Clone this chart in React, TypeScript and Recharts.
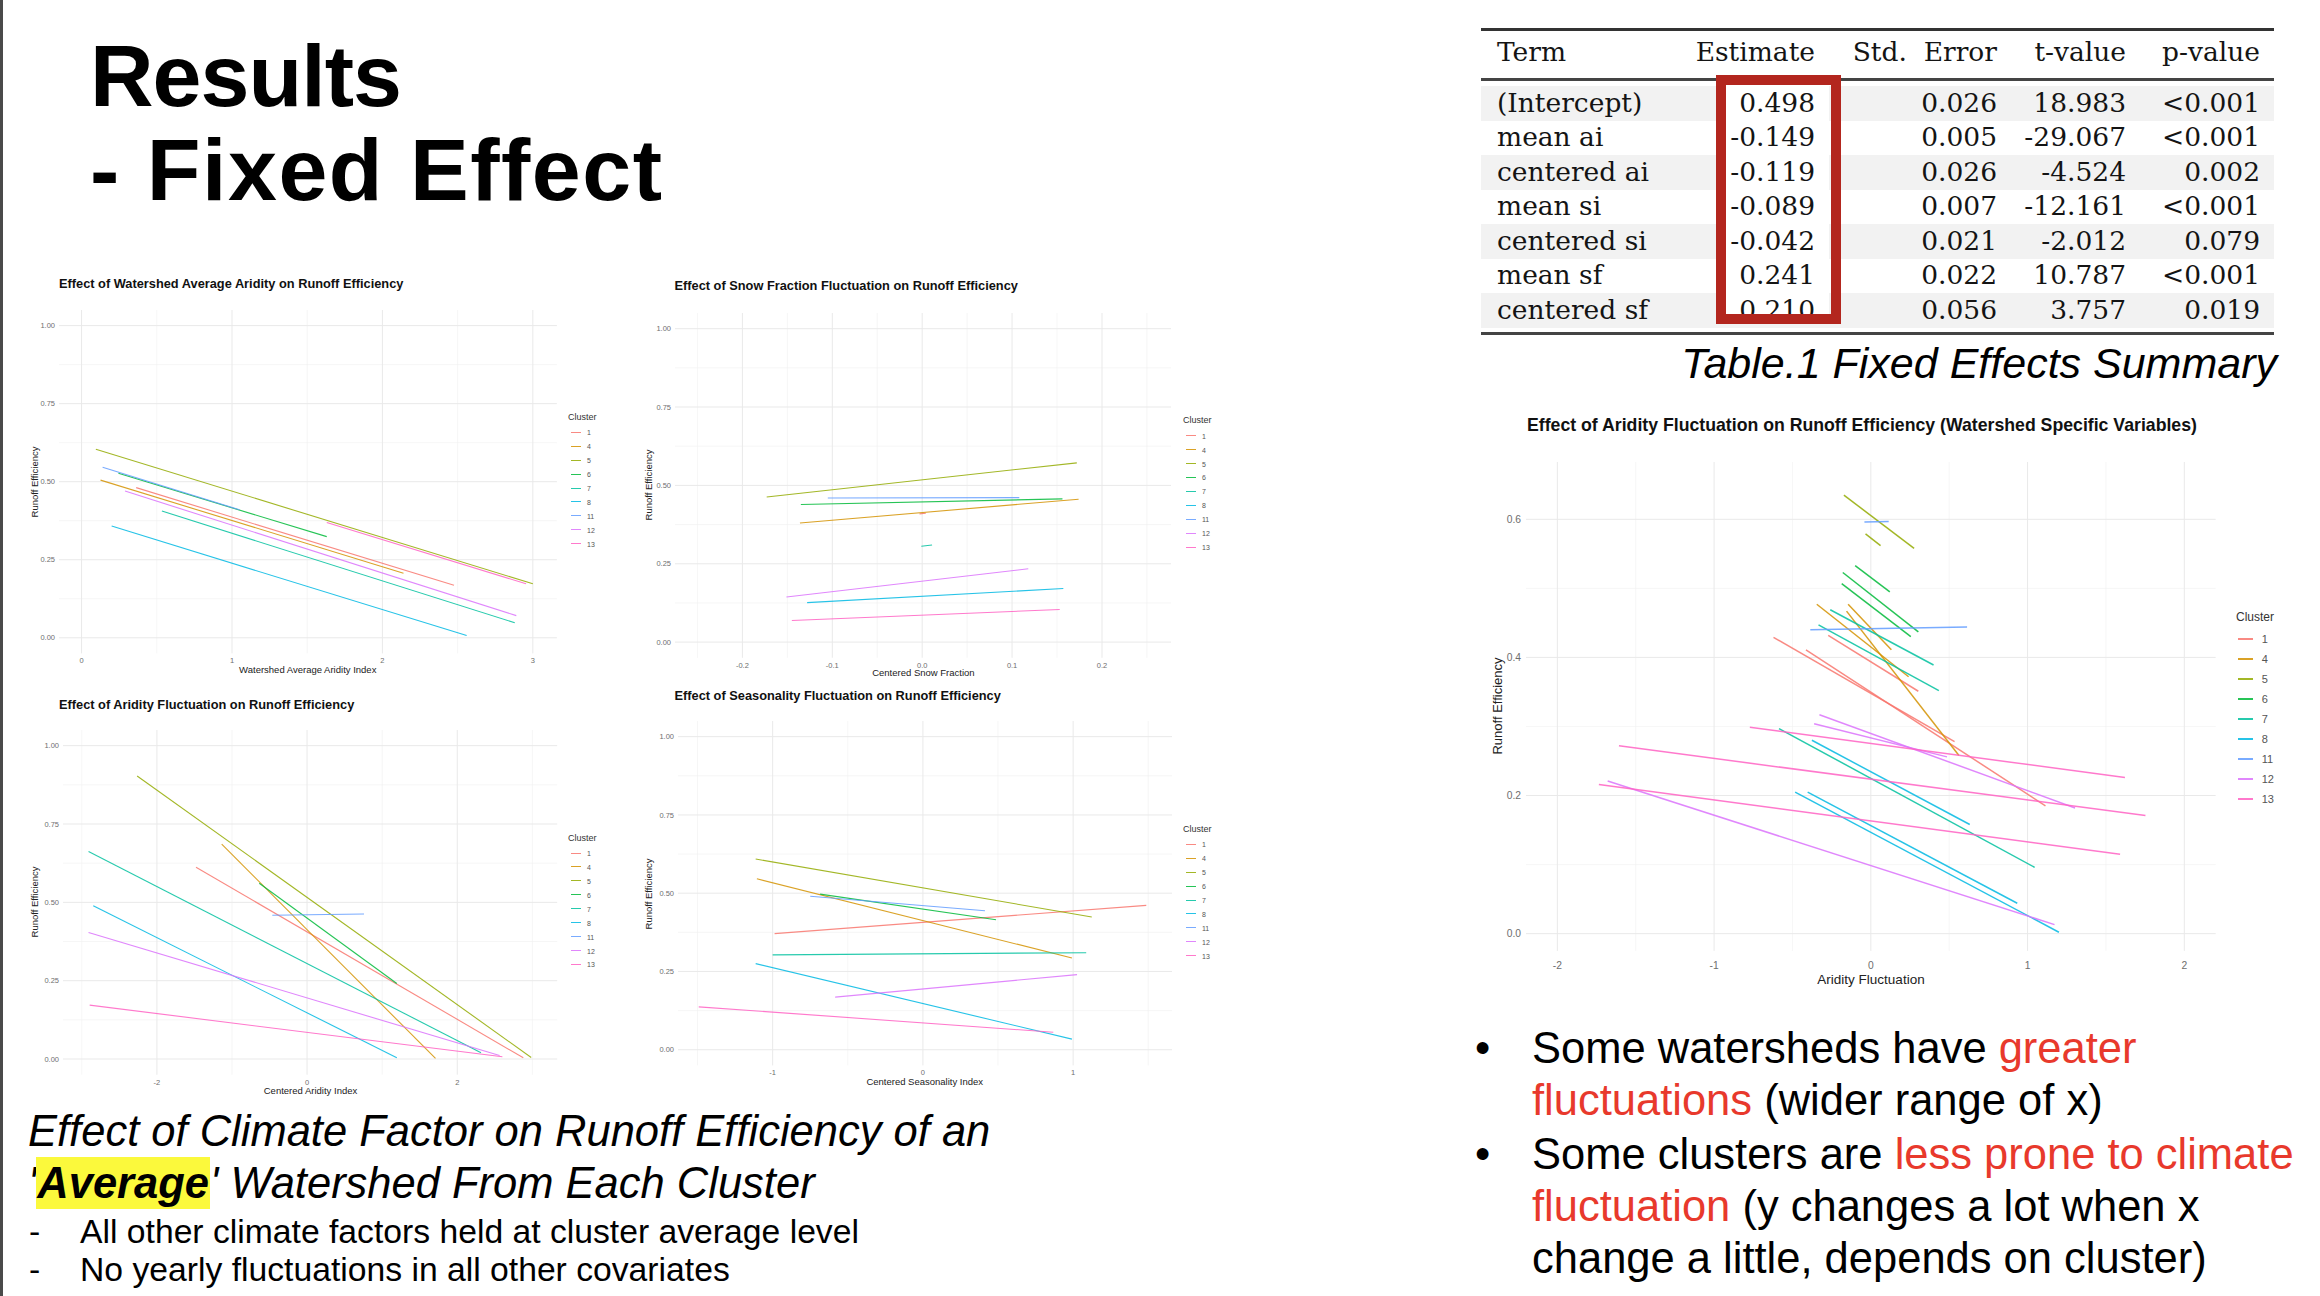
import type { CSSProperties, ReactNode } from "react";
import { CartesianGrid, Line, LineChart, XAxis, YAxis } from "recharts";

const CLUSTERS = ["1", "4", "5", "6", "7", "8", "11", "12", "13"];
const CLUSTER_COLORS = [
  "#F8766D",
  "#D39200",
  "#93AA00",
  "#00BA38",
  "#00C19F",
  "#00B9E3",
  "#619CFF",
  "#DB72FB",
  "#FF61C3",
];

// [cluster, x start, y start, x end, y end]
type Segment = [string, number, number, number, number];

const avgAriditySegments: Segment[] = [
  ["1", 0.363, 0.481, 2.476, 0.168],
  ["4", 0.126, 0.505, 2.14, 0.207],
  ["5", 0.095, 0.604, 3.0, 0.173],
  ["6", 0.245, 0.527, 1.63, 0.324],
  ["7", 0.534, 0.406, 2.88, 0.048],
  ["8", 0.2, 0.358, 2.56, 0.007],
  ["11", 0.14, 0.546, 1.05, 0.41],
  ["12", 0.289, 0.47, 2.89, 0.071],
  ["13", 1.63, 0.369, 2.955, 0.173],
];

const snowFractionSegments: Segment[] = [
  ["1", -0.003, 0.409, 0.004, 0.411],
  ["4", -0.136, 0.38, 0.174, 0.456],
  ["5", -0.173, 0.463, 0.172, 0.572],
  ["6", -0.135, 0.439, 0.156, 0.457],
  ["7", -0.001, 0.306, 0.011, 0.31],
  ["8", -0.128, 0.126, 0.157, 0.171],
  ["11", -0.105, 0.46, 0.108, 0.461],
  ["12", -0.151, 0.144, 0.118, 0.234],
  ["13", -0.145, 0.069, 0.153, 0.104],
];

const centeredAriditySegments: Segment[] = [
  ["1", -1.479, 0.612, 2.879, 0.004],
  ["4", -1.137, 0.686, 1.71, 0.002],
  ["5", -2.263, 0.903, 2.984, 0.005],
  ["6", -0.637, 0.561, 1.195, 0.241],
  ["7", -2.91, 0.662, 2.316, 0.02],
  ["8", -2.847, 0.489, 1.195, 0.004],
  ["11", -0.463, 0.459, 0.758, 0.463],
  ["12", -2.91, 0.404, 2.563, 0.011],
  ["13", -2.895, 0.172, 2.6, 0.007],
];

const seasonalitySegments: Segment[] = [
  ["1", -0.987, 0.371, 1.487, 0.461],
  ["4", -1.105, 0.546, 0.992, 0.293],
  ["5", -1.113, 0.609, 1.124, 0.424],
  ["6", -0.684, 0.497, 0.487, 0.415],
  ["7", -1.0, 0.303, 1.087, 0.31],
  ["8", -1.113, 0.275, 0.992, 0.034],
  ["11", -0.75, 0.49, 0.413, 0.444],
  ["12", -0.584, 0.168, 1.026, 0.24],
  ["13", -1.492, 0.137, 0.868, 0.056],
];

// one segment per watershed
const watershedSegments: Segment[] = [
  ["1", -0.621, 0.429, 0.534, 0.278],
  ["1", -0.272, 0.432, 0.303, 0.351],
  ["1", -0.414, 0.411, 1.114, 0.185],
  ["4", -0.345, 0.477, 0.241, 0.372],
  ["4", -0.145, 0.477, 0.131, 0.411],
  ["4", -0.155, 0.467, 0.562, 0.258],
  ["5", -0.172, 0.635, 0.276, 0.558],
  ["5", -0.034, 0.579, 0.062, 0.562],
  ["6", -0.1, 0.533, 0.121, 0.495],
  ["6", -0.179, 0.523, 0.303, 0.437],
  ["6", -0.186, 0.507, 0.255, 0.43],
  ["7", -0.259, 0.469, 0.4, 0.389],
  ["7", -0.334, 0.447, 0.434, 0.352],
  ["7", -0.586, 0.297, 1.045, 0.096],
  ["8", -0.376, 0.28, 0.631, 0.158],
  ["8", -0.403, 0.205, 0.934, 0.044],
  ["8", -0.483, 0.205, 1.2, 0.002],
  ["11", -0.041, 0.596, 0.114, 0.597],
  ["11", -0.386, 0.44, 0.614, 0.444],
  ["12", -0.328, 0.317, 1.303, 0.182],
  ["12", -0.362, 0.304, 0.486, 0.256],
  ["12", -1.679, 0.221, 1.172, 0.013],
  ["13", -0.772, 0.299, 1.621, 0.226],
  ["13", -1.607, 0.272, 1.752, 0.171],
  ["13", -1.735, 0.216, 1.59, 0.115],
];

const EFF_TICKS = [0, 0.25, 0.5, 0.75, 1];
const EFF_LABELS = ["0.00", "0.25", "0.50", "0.75", "1.00"];
const EFF_MINOR = [0.125, 0.375, 0.625, 0.875];

const AVG_AI_TICKS = [0, 1, 2, 3];
const AVG_AI_LABELS = ["0", "1", "2", "3"];
const AVG_AI_MINOR = [0.5, 1.5, 2.5];

const SNOW_TICKS = [-0.2, -0.1, 0, 0.1, 0.2];
const SNOW_LABELS = ["-0.2", "-0.1", "0.0", "0.1", "0.2"];
const SNOW_MINOR = [-0.25, -0.15, -0.05, 0.05, 0.15, 0.25];

const CAI_TICKS = [-2, 0, 2];
const CAI_LABELS = ["-2", "0", "2"];
const CAI_MINOR = [-3, -1, 1, 3];

const SEAS_TICKS = [-1, 0, 1];
const SEAS_LABELS = ["-1", "0", "1"];
const SEAS_MINOR = [-1.5, -0.5, 0.5, 1.5];

const FLUCT_TICKS = [-2, -1, 0, 1, 2];
const FLUCT_LABELS = ["-2", "-1", "0", "1", "2"];
const FLUCT_MINOR = [-1.5, -0.5, 0.5, 1.5];
const FLUCT_EFF_TICKS = [0, 0.2, 0.4, 0.6];
const FLUCT_EFF_LABELS = ["0.0", "0.2", "0.4", "0.6"];
const FLUCT_EFF_MINOR = [0.1, 0.3, 0.5];

const TABLE_HEADERS = ["Estimate", "Std.  Error", "t-value", "p-value"];
const TERMS = ["(Intercept)", "mean ai", "centered ai", "mean si", "centered si", "mean sf", "centered sf"];
const ESTIMATES = ["0.498", "-0.149", "-0.119", "-0.089", "-0.042", "0.241", "0.210"];
const STD_ERRORS = ["0.026", "0.005", "0.026", "0.007", "0.021", "0.022", "0.056"];
const T_VALUES = ["18.983", "-29.067", "-4.524", "-12.161", "-2.012", "10.787", "3.757"];
const P_VALUES = ["<0.001", "<0.001", "0.002", "<0.001", "0.079", "<0.001", "0.019"];

const SANS = '"Liberation Sans", Arial, Helvetica, sans-serif';
const SERIF = '"DejaVu Serif", "Liberation Serif", serif';
const RED_TEXT = "#e8392c";

const colorOf = (c: string) => CLUSTER_COLORS[CLUSTERS.indexOf(c)];

const labelFor = (ticks: number[], labels: string[]) => (v: number) => {
  const i = ticks.findIndex((t) => Math.abs(t - v) < 1e-9);
  return i >= 0 ? labels[i] : "";
};

interface Rect {
  left: number;
  top: number;
  width: number;
  height: number;
}

interface PanelProps {
  segments: Segment[];
  rect: Rect;
  xDomain: [number, number];
  yDomain: [number, number];
  xTicks: number[];
  xLabels: string[];
  xMinor: number[];
  yTicks: number[];
  yLabels: string[];
  yMinor: number[];
  tickFont: number;
  xTickGap: number;
  yTickGap: number;
  lineWidth: number;
}

function SegmentPanel(p: PanelProps) {
  const axisW = 60;
  const axisH = 40;
  const tickStyle = { fontSize: p.tickFont, fill: "#6e6e6e", fontFamily: SANS };
  return (
    <div style={{ position: "absolute", left: p.rect.left - axisW, top: p.rect.top }}>
      <LineChart
        width={p.rect.width + axisW}
        height={p.rect.height + axisH}
        margin={{ top: 0, right: 0, bottom: 0, left: 0 }}
      >
        <CartesianGrid
          stroke="#f0f0f0"
          strokeWidth={0.6}
          verticalValues={p.xMinor}
          horizontalValues={p.yMinor}
        />
        <CartesianGrid
          stroke="#e9e9e9"
          strokeWidth={1}
          verticalValues={p.xTicks}
          horizontalValues={p.yTicks}
        />
        <XAxis
          type="number"
          dataKey="x"
          domain={p.xDomain}
          ticks={p.xTicks}
          interval={0}
          allowDataOverflow
          axisLine={false}
          tickLine={false}
          tickSize={0}
          tickMargin={p.xTickGap}
          height={axisH}
          tick={tickStyle}
          tickFormatter={labelFor(p.xTicks, p.xLabels)}
        />
        <YAxis
          type="number"
          dataKey="y"
          domain={p.yDomain}
          ticks={p.yTicks}
          interval={0}
          allowDataOverflow
          axisLine={false}
          tickLine={false}
          tickSize={0}
          tickMargin={p.yTickGap}
          width={axisW}
          tick={tickStyle}
          tickFormatter={labelFor(p.yTicks, p.yLabels)}
        />
        {p.segments.map(([cluster, x1, y1, x2, y2], i) => (
          <Line
            key={`${cluster}-${i}`}
            data={[
              { x: x1, y: y1 },
              { x: x2, y: y2 },
            ]}
            dataKey="y"
            type="linear"
            stroke={colorOf(cluster)}
            strokeOpacity={0.85}
            strokeWidth={p.lineWidth}
            dot={false}
            activeDot={false}
            isAnimationActive={false}
          />
        ))}
      </LineChart>
    </div>
  );
}

interface LegendProps {
  left: number;
  titleY: number;
  firstY: number;
  step: number;
  titleFont: number;
  labelFont: number;
  keyStart: number;
  keyLen: number;
  labelStart: number;
  keyWidth: number;
}

function ClusterLegend(l: LegendProps) {
  return (
    <>
      <Centered x={l.left} y={l.titleY} size={l.titleFont} anchor="left" color="#333">
        Cluster
      </Centered>
      {CLUSTERS.map((c, i) => {
        const y = l.firstY + i * l.step;
        return (
          <div key={c}>
            <div
              style={{
                position: "absolute",
                left: l.left + l.keyStart,
                top: y - l.keyWidth / 2,
                width: l.keyLen,
                height: l.keyWidth,
                background: CLUSTER_COLORS[i],
                opacity: 0.85,
              }}
            />
            <Centered x={l.left + l.labelStart} y={y} size={l.labelFont} anchor="left" color="#555">
              {c}
            </Centered>
          </div>
        );
      })}
    </>
  );
}

function Centered({
  x,
  y,
  size,
  children,
  anchor = "middle",
  rotate = false,
  bold = false,
  color = "#222",
}: {
  x: number;
  y: number;
  size: number;
  children: ReactNode;
  anchor?: "left" | "middle";
  rotate?: boolean;
  bold?: boolean;
  color?: string;
}) {
  const tx = anchor === "middle" ? "-50%" : "0";
  return (
    <div
      style={{
        position: "absolute",
        left: x,
        top: y,
        fontSize: size,
        lineHeight: `${size}px`,
        whiteSpace: "nowrap",
        fontWeight: bold ? 700 : 400,
        color,
        transformOrigin: "0 0",
        transform: rotate
          ? `rotate(-90deg) translate(-50%, -50%)`
          : `translate(${tx}, -50%)`,
      }}
    >
      {children}
    </div>
  );
}

function Txt({
  x,
  baseline,
  size,
  children,
  style,
  right,
}: {
  x?: number;
  baseline: number;
  size: number;
  children: ReactNode;
  style?: CSSProperties;
  right?: number;
}) {
  const pos: CSSProperties =
    right !== undefined ? { left: right - 1200, width: 1200, textAlign: "right" } : { left: x };
  return (
    <div
      style={{
        position: "absolute",
        top: baseline - 0.85 * size,
        fontSize: size,
        lineHeight: `${size}px`,
        whiteSpace: "nowrap",
        ...pos,
        ...style,
      }}
    >
      {children}
    </div>
  );
}

const SMALL = { tickFont: 7.5, xTickGap: 4.5, yTickGap: 4, lineWidth: 1.1 };
const SMALL_LEGEND = {
  step: 13.93,
  titleFont: 9,
  labelFont: 7,
  keyStart: 2.5,
  keyLen: 10.5,
  labelStart: 19,
  keyWidth: 1,
};

function SmallChartTexts({
  title,
  titleX,
  titleBaseline,
  rect,
  yTitleX,
  xTitle,
  xTitleY,
}: {
  title: string;
  titleX: number;
  titleBaseline: number;
  rect: Rect;
  yTitleX: number;
  xTitle: string;
  xTitleY: number;
}) {
  return (
    <>
      <Txt x={titleX} baseline={titleBaseline} size={12.8} style={{ fontWeight: 700, color: "#111" }}>
        {title}
      </Txt>
      <Centered x={yTitleX} y={rect.top + rect.height / 2} size={9.5} rotate>
        Runoff Efficiency
      </Centered>
      <Centered x={rect.left + rect.width / 2} y={xTitleY} size={9.5}>
        {xTitle}
      </Centered>
    </>
  );
}

export default function App() {
  const r1: Rect = { left: 58.8, top: 309.9, width: 497.9, height: 343.4 };
  const r2: Rect = { left: 675.3, top: 312.6, width: 496.2, height: 344.8 };
  const r3: Rect = { left: 63.4, top: 730, width: 494.2, height: 344.7 };
  const r4: Rect = { left: 677.6, top: 721.3, width: 494.3, height: 344.4 };
  const rBig: Rect = { left: 1526.3, top: 462, width: 689.7, height: 488.9 };

  const tableLeft = 1481;
  const tableRight = 2274;
  const rowTop = 86;
  const rowH = 34.5;
  const colRights = [1815, 1997, 2126, 2260];
  const tableFont = 26.5;

  return (
    <div
      style={{
        position: "absolute",
        left: 0,
        top: 0,
        width: 2320,
        height: 1296,
        background: "#ffffff",
        overflow: "hidden",
        fontFamily: SANS,
        color: "#000",
      }}
    >
      <div style={{ position: "absolute", left: 0, top: 0, width: 3, height: 1296, background: "#4a4a4a" }} />

      {/* slide title */}
      <Txt x={90} baseline={107} size={88} style={{ fontWeight: 700, letterSpacing: -1 }}>
        Results
      </Txt>
      <Txt x={90} baseline={201} size={88} style={{ fontWeight: 700, letterSpacing: 1.5 }}>
        - Fixed Effect
      </Txt>

      {/* top-left: average aridity */}
      <SegmentPanel
        segments={avgAriditySegments}
        rect={r1}
        xDomain={[-0.15, 3.16]}
        yDomain={[-0.05, 1.05]}
        xTicks={AVG_AI_TICKS}
        xLabels={AVG_AI_LABELS}
        xMinor={AVG_AI_MINOR}
        yTicks={EFF_TICKS}
        yLabels={EFF_LABELS}
        yMinor={EFF_MINOR}
        {...SMALL}
      />
      <SmallChartTexts
        title="Effect of Watershed Average Aridity on Runoff Efficiency"
        titleX={59}
        titleBaseline={288.5}
        rect={r1}
        yTitleX={35}
        xTitle="Watershed Average Aridity Index"
        xTitleY={670}
      />
      <ClusterLegend left={568} titleY={417} firstY={432.3} {...SMALL_LEGEND} />

      {/* top-middle: snow fraction */}
      <SegmentPanel
        segments={snowFractionSegments}
        rect={r2}
        xDomain={[-0.275, 0.277]}
        yDomain={[-0.05, 1.05]}
        xTicks={SNOW_TICKS}
        xLabels={SNOW_LABELS}
        xMinor={SNOW_MINOR}
        yTicks={EFF_TICKS}
        yLabels={EFF_LABELS}
        yMinor={EFF_MINOR}
        {...SMALL}
      />
      <SmallChartTexts
        title="Effect of Snow Fraction Fluctuation on Runoff Efficiency"
        titleX={674.5}
        titleBaseline={291}
        rect={r2}
        yTitleX={648.5}
        xTitle="Centered Snow Fraction"
        xTitleY={673}
      />
      <ClusterLegend left={1183} titleY={420} firstY={435.7} {...SMALL_LEGEND} />

      {/* bottom-left: centered aridity */}
      <SegmentPanel
        segments={centeredAriditySegments}
        rect={r3}
        xDomain={[-3.25, 3.33]}
        yDomain={[-0.05, 1.05]}
        xTicks={CAI_TICKS}
        xLabels={CAI_LABELS}
        xMinor={CAI_MINOR}
        yTicks={EFF_TICKS}
        yLabels={EFF_LABELS}
        yMinor={EFF_MINOR}
        {...SMALL}
      />
      <SmallChartTexts
        title="Effect of Aridity Fluctuation on Runoff Efficiency"
        titleX={59}
        titleBaseline={709.5}
        rect={r3}
        yTitleX={35}
        xTitle="Centered Aridity Index"
        xTitleY={1091}
      />
      <ClusterLegend left={568} titleY={838} firstY={853} {...SMALL_LEGEND} />

      {/* bottom-middle: seasonality */}
      <SegmentPanel
        segments={seasonalitySegments}
        rect={r4}
        xDomain={[-1.63, 1.66]}
        yDomain={[-0.05, 1.05]}
        xTicks={SEAS_TICKS}
        xLabels={SEAS_LABELS}
        xMinor={SEAS_MINOR}
        yTicks={EFF_TICKS}
        yLabels={EFF_LABELS}
        yMinor={EFF_MINOR}
        {...SMALL}
      />
      <SmallChartTexts
        title="Effect of Seasonality Fluctuation on Runoff Efficiency"
        titleX={674.5}
        titleBaseline={700.5}
        rect={r4}
        yTitleX={648.5}
        xTitle="Centered Seasonality Index"
        xTitleY={1082.3}
      />
      <ClusterLegend left={1183} titleY={829} firstY={844.3} {...SMALL_LEGEND} />

      {/* caption under the small charts */}
      <Txt x={28} baseline={1147} size={43.5} style={{ fontStyle: "italic" }}>
        Effect of Climate Factor on Runoff Efficiency of an
      </Txt>
      <Txt x={28} baseline={1199} size={43.5} style={{ fontStyle: "italic" }}>
        '<span style={{ fontWeight: 700, background: "#fbf93c", padding: "2px 1px" }}>Average</span>' Watershed
        From Each Cluster
      </Txt>
      <Txt x={29} baseline={1244} size={33.7}>
        -
      </Txt>
      <Txt x={80} baseline={1244} size={33.7}>
        All other climate factors held at cluster average level
      </Txt>
      <Txt x={29} baseline={1282} size={33.7}>
        -
      </Txt>
      <Txt x={80} baseline={1282} size={33.7}>
        No yearly fluctuations in all other covariates
      </Txt>

      {/* fixed effects table */}
      <div style={{ position: "absolute", left: tableLeft, top: 28, width: tableRight - tableLeft, height: 2.8, background: "#333" }} />
      <div style={{ position: "absolute", left: tableLeft, top: 77.5, width: tableRight - tableLeft, height: 3.2, background: "#444" }} />
      <div style={{ position: "absolute", left: tableLeft, top: 332.3, width: tableRight - tableLeft, height: 3.2, background: "#444" }} />
      {TERMS.map((_, i) =>
        i % 2 === 0 ? (
          <div
            key={`bg-${i}`}
            style={{
              position: "absolute",
              left: tableLeft,
              top: rowTop + i * rowH,
              width: tableRight - tableLeft,
              height: rowH,
              background: "#f2f2f2",
            }}
          />
        ) : null
      )}
      <div style={{ position: "absolute", left: 1726, top: 86, width: 103, height: 228, background: "#fff" }} />
      <div style={{ fontFamily: SERIF, color: "#141414" }}>
        <Txt x={1497} baseline={62} size={tableFont}>
          Term
        </Txt>
        {TABLE_HEADERS.map((h, j) => (
          <Txt key={h} right={colRights[j]} baseline={62} size={tableFont} style={{ whiteSpace: "pre" }}>
            {h}
          </Txt>
        ))}
        {TERMS.map((term, i) => {
          const base = rowTop + i * rowH + rowH / 2 + 9;
          return (
            <div key={term}>
              <Txt x={1497} baseline={base} size={tableFont}>
                {term}
              </Txt>
              <Txt right={colRights[0]} baseline={base} size={tableFont}>
                {ESTIMATES[i]}
              </Txt>
              <Txt right={colRights[1]} baseline={base} size={tableFont}>
                {STD_ERRORS[i]}
              </Txt>
              <Txt right={colRights[2]} baseline={base} size={tableFont}>
                {T_VALUES[i]}
              </Txt>
              <Txt right={colRights[3]} baseline={base} size={tableFont}>
                {P_VALUES[i]}
              </Txt>
            </div>
          );
        })}
      </div>
      <div
        style={{
          position: "absolute",
          left: 1715.5,
          top: 75,
          width: 125,
          height: 249.3,
          boxSizing: "border-box",
          border: "10.8px solid #b3261e",
        }}
      />
      <Txt right={2277} baseline={379} size={43} style={{ fontStyle: "italic" }}>
        Table.1 Fixed Effects Summary
      </Txt>

      {/* right: watershed specific chart */}
      <SegmentPanel
        segments={watershedSegments}
        rect={rBig}
        xDomain={[-2.2, 2.2]}
        yDomain={[-0.025, 0.683]}
        xTicks={FLUCT_TICKS}
        xLabels={FLUCT_LABELS}
        xMinor={FLUCT_MINOR}
        yTicks={FLUCT_EFF_TICKS}
        yLabels={FLUCT_EFF_LABELS}
        yMinor={FLUCT_EFF_MINOR}
        tickFont={10.3}
        xTickGap={11}
        yTickGap={5}
        lineWidth={1.5}
      />
      <Txt x={1527} baseline={432.5} size={17.7} style={{ fontWeight: 700, color: "#111" }}>
        Effect of Aridity Fluctuation on Runoff Efficiency (Watershed Specific Variables)
      </Txt>
      <Centered x={1497} y={rBig.top + rBig.height / 2} size={13} rotate>
        Runoff Efficiency
      </Centered>
      <Centered x={1871} y={980} size={13.5}>
        Aridity Fluctuation
      </Centered>
      <ClusterLegend
        left={2236}
        titleY={616.7}
        firstY={639}
        step={20}
        titleFont={12}
        labelFont={11}
        keyStart={1.7}
        keyLen={15.6}
        labelStart={25.7}
        keyWidth={1.4}
      />

      {/* bullets */}
      {[1063.8, 1169.5].map((b) => (
        <Txt key={b} x={1475} baseline={b} size={43.5}>
          •
        </Txt>
      ))}
      <Txt x={1532} baseline={1063.8} size={43.5}>
        Some watersheds have <span style={{ color: RED_TEXT }}>greater</span>
      </Txt>
      <Txt x={1532} baseline={1116.3} size={43.5}>
        <span style={{ color: RED_TEXT }}>fluctuations</span> (wider range of x)
      </Txt>
      <Txt x={1532} baseline={1169.5} size={43.5}>
        Some clusters are <span style={{ color: RED_TEXT }}>less prone to climate</span>
      </Txt>
      <Txt x={1532} baseline={1221.5} size={43.5}>
        <span style={{ color: RED_TEXT }}>fluctuation</span> (y changes a lot when x
      </Txt>
      <Txt x={1532} baseline={1273.5} size={43.5}>
        change a little, depends on cluster)
      </Txt>
    </div>
  );
}
